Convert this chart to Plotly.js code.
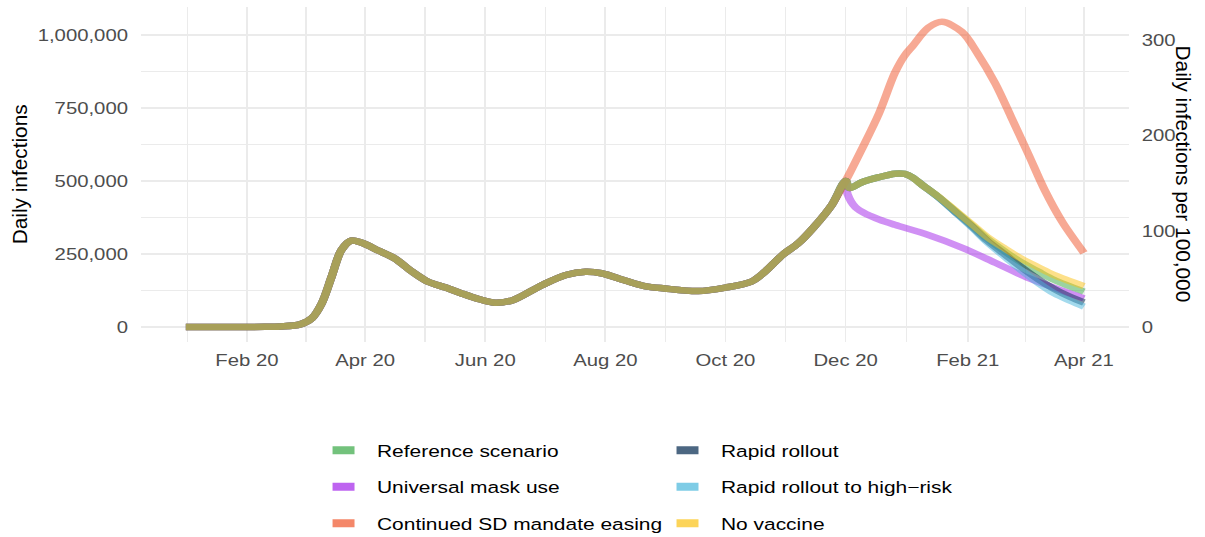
<!DOCTYPE html>
<html>
<head>
<meta charset="utf-8">
<script src="https://cdn.plot.ly/plotly-3.0.1.min.js"></script>
<style>
html, body { margin: 0; padding: 0; background: #ffffff; overflow: hidden; }
#chart { width: 949px; height: 537px; transform-origin: 0 0; }
</style>
</head>
<body>
<div id="chart"></div>
<script>
// ---------- DATA ----------
const histDates = ['2020-01-01','2020-01-20','2020-02-10','2020-02-18','2020-02-28','2020-03-05','2020-03-10','2020-03-15','2020-03-20','2020-03-25','2020-03-30','2020-04-08','2020-04-16','2020-04-25','2020-05-03','2020-05-12','2020-05-20','2020-05-29','2020-06-06','2020-06-15','2020-06-30','2020-07-12','2020-07-22','2020-07-30','2020-08-11','2020-08-21','2020-08-31','2020-09-17','2020-10-01','2020-10-14','2020-10-21','2020-10-30','2020-11-07','2020-11-15','2020-11-24','2020-12-01'];
const histValues = [0,0,500,2000,9000,30000,81000,172000,264000,296000,289000,261000,235000,189000,155000,135000,115000,95000,83000,92000,144000,178000,189000,184000,159000,140000,132000,123000,135000,155000,189000,247000,287000,343000,418000,500000];

const refDates = ['2020-12-03','2020-12-09','2020-12-18','2020-12-26','2020-12-31','2021-01-04','2021-01-09','2021-01-17','2021-01-25','2021-02-03','2021-02-11','2021-02-20','2021-02-28','2021-03-09','2021-03-17','2021-04-01'];
const refValues = [476000,495000,513000,525000,524000,512000,486000,446000,401000,349000,302000,258000,222000,189000,161000,121000];

const maskDates = ['2020-12-02','2020-12-06','2020-12-12','2020-12-18','2020-12-26','2021-01-12','2021-01-29','2021-02-15','2021-03-04','2021-03-21','2021-04-01'];
const maskValues = [455000,410000,385000,368000,350000,315000,272000,220000,167000,124000,98000];

const sdDates = ['2020-12-09','2020-12-18','2020-12-26','2020-12-31','2021-01-04','2021-01-12','2021-01-19','2021-01-29','2021-02-06','2021-02-15','2021-02-23','2021-03-04','2021-03-12','2021-03-21','2021-04-01'];
const sdValues = [606000,732000,870000,930000,962000,1025000,1045000,1011000,937000,834000,720000,589000,470000,360000,254000];

const vaxDates = ['2020-12-03','2020-12-09','2020-12-18','2020-12-26','2020-12-31','2021-01-04','2021-01-09','2021-01-17','2021-01-25','2021-02-03','2021-02-11','2021-02-20','2021-02-28','2021-03-09','2021-03-17','2021-03-25','2021-04-01'];
const rapidValues = [476000,495000,513000,525000,524000,512000,486000,445000,398000,345000,295000,248000,206000,163000,130000,103000,84000];
const highRiskValues = [476000,495000,513000,525000,524000,512000,486000,445000,397000,342000,290000,240000,195000,150000,115000,90000,70000];

const noVacDates = refDates;
const noVacValues = [476000,495000,513000,525000,524000,512000,486000,447000,403000,353000,308000,268000,235000,204000,178000,140000];

const seriesNames = ['Reference scenario','Universal mask use','Continued SD mandate easing','Rapid rollout','Rapid rollout to high\u2212risk','No vaccine'];
const seriesRGB = [[56,168,68],[162,34,234],[239,84,42],[0,38,77],[71,182,219],[251,194,19]];

const xTickDates = ['2020-02-01','2020-04-01','2020-06-01','2020-08-01','2020-10-01','2020-12-01','2021-02-01','2021-04-01'];
const xTickLabels = ['Feb 20','Apr 20','Jun 20','Aug 20','Oct 20','Dec 20','Feb 21','Apr 21'];
const yTicks = [0,250000,500000,750000,1000000];
const yMinorTicks = [125000,375000,625000,875000];
const y2Ticks = [0,100,200,300];
const peoplePerRate = 3276; // daily infections per 1 infection/100,000 (US population / 100,000)

// ---------- LAYOUT ----------
const W = 949, H = 537, SX = 1205 / 949;
const M = {l: 111, r: 60, t: 7, b: 195};
const plotW = W - M.l - M.r;

function toStr(ms) { return new Date(ms).toISOString().replace('T',' ').slice(0,19); }
const x0 = Date.UTC(2020,0,1), x1 = Date.UTC(2021,3,1);
const xpad = (x1 - x0) * 0.05;
const xRange = [toStr(x0 - xpad), toStr(x1 + xpad)];

// minor grid at midpoints between major ticks (ggplot style)
const majMs = xTickDates.map(d => Date.parse(d + 'T00:00:00Z'));
const xMinor = [toStr(majMs[0] - (majMs[1]-majMs[0])/2)];
for (let i = 0; i < majMs.length - 1; i++) xMinor.push(toStr((majMs[i] + majMs[i+1]) / 2));

const yRange = [-0.05137e6, 1.09589e6];

const projections = [
  [refDates, refValues],
  [maskDates, maskValues],
  [sdDates, sdValues],
  [vaxDates, rapidValues],
  [vaxDates, highRiskValues],
  [noVacDates, noVacValues]
];

const rgba = (c, a) => `rgba(${c[0]},${c[1]},${c[2]},${a})`;
const traces = [];
projections.forEach((p, i) => {
  traces.push({
    type: 'scatter', mode: 'lines',
    x: histDates.concat(p[0]), y: histValues.concat(p[1]),
    name: seriesNames[i], showlegend: false, hoverinfo: 'skip',
    line: {color: rgba(seriesRGB[i], 0.5), width: 6.5, shape: 'spline', smoothing: 0.9}
  });
});
// legend entries (keys drawn a bit more opaque, as in the reference)
seriesNames.forEach((n, i) => {
  traces.push({
    type: 'scatter', mode: 'lines', x: [null], y: [null], yaxis: 'y2',
    name: n, legend: i < 3 ? 'legend' : 'legend2', legendgroup: 'g' + i,
    showlegend: true, hoverinfo: 'skip',
    line: {color: rgba(seriesRGB[i], 0.7), width: 8}
  });
});

const gridC = '#EBEBEB';
const tickFont = {family: 'Liberation Sans, Arial, sans-serif', size: 16, color: '#4D4D4D'};
const textFont = {family: 'Liberation Sans, Arial, sans-serif', size: 16.5, color: '#000000'};
const titleFont = {family: 'Liberation Sans, Arial, sans-serif', size: 20.8, color: '#000000'};

const legendBase = {
  orientation: 'v', xanchor: 'left', yanchor: 'top', yref: 'container', y: 1 - 433 / H,
  font: textFont, bgcolor: 'rgba(0,0,0,0)', borderwidth: 0, tracegroupgap: 12
};

const layout = {
  width: W, height: H,
  margin: M,
  paper_bgcolor: '#ffffff', plot_bgcolor: '#ffffff',
  font: textFont,
  xaxis: {
    type: 'date', range: xRange, autorange: false,
    tickmode: 'array', tickvals: xTickDates, ticktext: xTickLabels,
    tickfont: tickFont, ticks: 'outside', ticklen: 4, tickcolor: 'rgba(0,0,0,0)',
    showgrid: true, gridcolor: gridC, gridwidth: 1.4,
    minor: {tickmode: 'array', tickvals: xMinor, showgrid: true, gridcolor: gridC, gridwidth: 1, ticks: ''},
    zeroline: false, showline: false
  },
  yaxis: {
    range: yRange, autorange: false,
    tickmode: 'array', tickvals: yTicks, tickformat: ',',
    tickfont: tickFont, ticks: 'outside', ticklen: 6, tickcolor: 'rgba(0,0,0,0)',
    showgrid: true, gridcolor: gridC, gridwidth: 1.4,
    minor: {tickmode: 'array', tickvals: yMinorTicks, showgrid: true, gridcolor: gridC, gridwidth: 1, ticks: ''},
    zeroline: false, showline: false
  },
  yaxis2: {
    overlaying: 'y', side: 'right',
    range: [yRange[0] / peoplePerRate, yRange[1] / peoplePerRate], autorange: false,
    tickmode: 'array', tickvals: y2Ticks,
    tickfont: tickFont, ticks: 'outside', ticklen: 6, tickcolor: 'rgba(0,0,0,0)',
    showgrid: false, zeroline: false, showline: false
  },
  legend: Object.assign({}, legendBase, {x: (296.9 - 40 - M.l) / plotW}),
  legend2: Object.assign({}, legendBase, {x: (567.8 - 40 - M.l) / plotW}),
  annotations: [
    {text: 'Daily infections', xref: 'paper', yref: 'paper', x: (15.75 - M.l) / plotW, y: 0.5,
     xanchor: 'center', yanchor: 'middle', textangle: -90, showarrow: false, font: titleFont},
    {text: 'Daily infections per 100,000', xref: 'paper', yref: 'paper', x: (931.9 - M.l) / plotW, y: 0.5,
     xanchor: 'center', yanchor: 'middle', textangle: 90, showarrow: false, font: titleFont}
  ],
  showlegend: true
};

const gd = document.getElementById('chart');
Plotly.newPlot(gd, traces, layout, {staticPlot: true, displayModeBar: false, responsive: false})
  .then(() => {
    // rotated axis titles are not widened in the reference: undo the page stretch for them
    const svgRect = gd.querySelector('svg.main-svg').getBoundingClientRect();
    gd.querySelectorAll('g.annotation').forEach(g => {
      const r = g.getBoundingClientRect();
      const cx = r.left + r.width / 2 - svgRect.left;
      const prev = g.getAttribute('transform') || '';
      g.setAttribute('transform', `translate(${cx},0) scale(${1 / SX},1) translate(${-cx},0) ${prev}`);
    });
    // shorter legend keys, as in the reference
    gd.querySelectorAll('.legendlines path').forEach(p => p.setAttribute('d', 'M5,0h17.3'));
    gd.style.transform = `scaleX(${SX})`;
  });
</script>
</body>
</html>
